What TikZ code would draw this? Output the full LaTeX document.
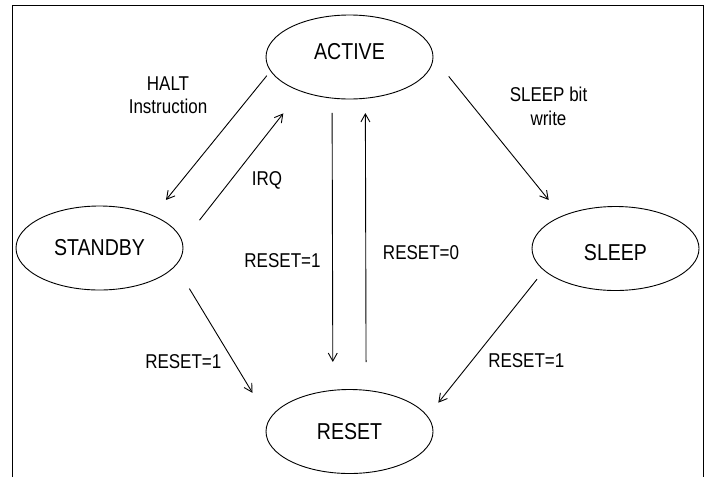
\documentclass[tikz,border=0pt]{standalone}
\usepackage{fontspec}
\setmainfont[FakeStretch=0.85]{Liberation Sans}
\usetikzlibrary{shapes, arrows.meta, positioning}

\begin{document}
\begin{tikzpicture}[x=1pt, y=-1pt, >={Straight Barb[length=8pt,width=9pt]},
    state/.style={ellipse, draw, line width=0.9pt, minimum width=167pt, minimum height=84pt,
        inner sep=0pt, outer sep=0pt, font=\fontsize{23}{27}\selectfont},
    lbl/.style={align=center, font=\fontsize{20}{23.5}\selectfont},
    trans/.style={->, line width=0.9pt}]
    \useasboundingbox (0,0) rectangle (706,477);
    \draw[line width=1.2pt] (12.7,477) -- (12.7,5.7) -- (703.7,5.7) -- (703.7,477);

    % states
    \node[state] (active) at (349.5,57) {\raisebox{12pt}{ACTIVE}};
    \node[state] (standby) at (99.5,248) {STANDBY};
    \node[state] (sleep) at (615.5,248.5) {\raisebox{0pt}[\dimexpr\height+8pt\relax][0pt]{SLEEP}};
    \node[state] (reset) at (349.5,431.5) {RESET};

    % transitions
    \draw[trans, shorten <=6.2pt, shorten >=20.4pt] (active.190.2) -- (standby.31);
    \draw[trans, shorten <=28pt, shorten >=28.3pt] (standby.4.7) -- (active.215.1);
    \draw[trans, shorten <=14.9pt, shorten >=28.4pt] (active.247.5) -- (reset.112.5);
    \draw[trans, shorten <=28.3pt, shorten >=14.8pt] (reset.68.2) -- (active.291.8);
    \draw[trans, shorten <=25pt, shorten >=21pt] (active.0.9) -- (sleep.149.4);
    \draw[trans, shorten <=27pt, shorten >=32pt] (standby.347.7) -- (reset.172);
    \draw[trans, shorten <=11.3pt, shorten >=17.5pt] (sleep.197.2) -- (reset.11);

    % labels
    \node[lbl] (halt) at (168,95) {HALT\\Instruction};
    \node[lbl] (irq) at (267,180) {IRQ};
    \node[lbl] (rstdown) at (282.5,261) {RESET=1};
    \node[lbl] (rstup) at (421,253) {RESET=0};
    \node[lbl] (sleepbit) at (548.5,106.5) {SLEEP bit\\write};
    \node[lbl] (rststandby) at (183.3,361.5) {RESET=1};
    \node[lbl] (rstsleep) at (526.3,360.7) {RESET=1};
\end{tikzpicture}
\end{document}
